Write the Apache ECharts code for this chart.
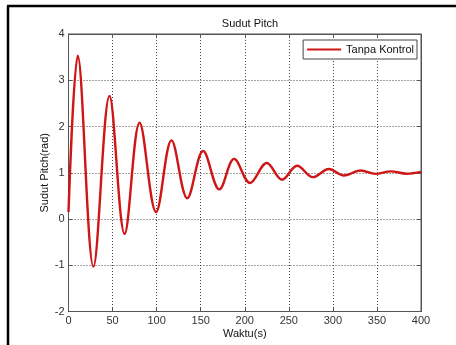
<!DOCTYPE html>
<html>
<head>
<meta charset="utf-8">
<script src="https://cdn.jsdelivr.net/npm/echarts@6/dist/echarts.min.js"></script>
<style>html,body{margin:0;padding:0;background:#fff}#c{width:456px;height:345px}</style>
</head>
<body>
<div id="c"></div>
<script>
// Values (start, extrema, end)
const seriesName = 'Tanpa Kontrol';
const timeS = [0, 10.5, 28.3, 46.5, 63.7, 80.7, 99.4, 116.9, 134.8, 152.8, 171.2, 188, 206, 225, 242.3, 259.4, 277.3, 295.5, 312.6, 331.6, 348.3, 365.8, 383.7, 400];
const pitchRad = [0.15, 3.53, -1.03, 2.66, -0.32, 2.08, 0.15, 1.7, 0.45, 1.47, 0.64, 1.3, 0.78, 1.21, 0.85, 1.15, 0.905, 1.08, 0.94, 1.05, 0.975, 1.03, 0.98, 1.02];
const xTicks = {min: 0, max: 400, step: 50};
const yTicks = {min: -2, max: 4, step: 1};

const data = timeS.map((t, i) => [t, pitchRad[i]]);
const font = 'Liberation Sans, Arial, sans-serif';
const chart = echarts.init(document.getElementById('c'), null, {renderer: 'canvas'});
const gridLine = {show: true, lineStyle: {color: '#444', type: [1, 2], width: 1}};
const axLine = {show: true, onZero: false, lineStyle: {color: '#555'}};
const axTick = {inside: true, length: 4, lineStyle: {color: '#555'}};
chart.setOption({
  animation: false,
  backgroundColor: '#fff',
  title: {text: 'Sudut Pitch', left: 245, top: 13, textAlign: 'center',
    textStyle: {fontFamily: font, fontSize: 11, fontWeight: 'normal', color: '#111'}},
  grid: {left: 68.5, top: 34, right: 35, bottom: 33.5, show: true, borderColor: '#555', borderWidth: 1, backgroundColor: '#fff'},
  legend: {right: 39, top: 40, orient: 'vertical', backgroundColor: '#fff', borderColor: '#444', borderWidth: 1,
    padding: [4, 3, 4, 4], itemWidth: 34, itemHeight: 10, itemGap: 2,
    textStyle: {fontFamily: font, fontSize: 11, color: '#111'},
    data: [{name: seriesName, icon: 'path://M0,4L35,4L35,6L0,6Z'}]},
  xAxis: [{type: 'value', min: xTicks.min, max: xTicks.max, interval: xTicks.step,
    name: 'Waktu(s)', nameLocation: 'middle', nameGap: 17, nameMoveOverlap: false,
    nameTextStyle: {fontFamily: font, fontSize: 11, color: '#111'},
    axisLine: axLine, axisTick: axTick,
    axisLabel: {fontFamily: font, fontSize: 11, color: '#333', margin: 4},
    splitLine: gridLine},
   {type: 'value', position: 'top', min: xTicks.min, max: xTicks.max, interval: xTicks.step,
    axisLine: axLine, axisTick: axTick,
    axisLabel: {show: false}, splitLine: {show: false}}],
  yAxis: [{type: 'value', min: yTicks.min, max: yTicks.max, interval: yTicks.step,
    name: 'Sudut Pitch(rad)', nameLocation: 'middle', nameGap: 18, nameRotate: 90, nameMoveOverlap: false,
    nameTextStyle: {fontFamily: font, fontSize: 11, color: '#111'},
    axisLine: axLine, axisTick: axTick,
    axisLabel: {fontFamily: font, fontSize: 11, color: '#333', margin: 4},
    splitLine: gridLine},
   {type: 'value', position: 'right', min: yTicks.min, max: yTicks.max, interval: yTicks.step,
    axisLine: axLine, axisTick: axTick,
    axisLabel: {show: false}, splitLine: {show: false}}],
  series: [{name: seriesName, type: 'line', data: data, smooth: 0.36, showSymbol: false,
    lineStyle: {color: '#cf1515', width: 2.4}, itemStyle: {color: '#cf1515'}}],
  graphic: [
    {type: 'line', shape: {x1: 8, y1: 6, x2: 8, y2: 345}, style: {stroke: '#000', lineWidth: 2.5}},
    {type: 'line', shape: {x1: 7, y1: 6, x2: 456, y2: 6}, style: {stroke: '#000', lineWidth: 2.5}}
  ]
});
</script>
</body>
</html>
